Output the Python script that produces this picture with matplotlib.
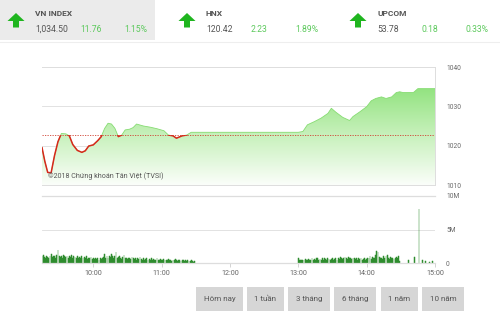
import matplotlib
matplotlib.use("Agg")
import matplotlib.pyplot as plt
import numpy as np
from matplotlib.patches import Rectangle, Polygon

plt.rcParams["font.family"] = ["Roboto", "DejaVu Sans"]

# Index summary tiles
index_names = ["VN INDEX", "HNX", "UPCOM"]
index_last = ["1,034.50", "120.42", "53.78"]
index_change = ["11.76", "2.23", "0.18"]
index_pct = ["1.15%", "1.89%", "0.33%"]

# Intraday VN-Index (minutes since 9:15)
price_t = [0, 2.5, 5, 8, 11, 14, 17, 21, 24, 27, 31, 35, 38, 41, 45, 49, 52, 55,
           58, 61, 64, 67, 70, 73, 77, 80, 83, 89, 95, 101, 107, 111, 115, 118,
           123, 127, 131, 135, 225, 229, 233, 239, 245, 251, 254, 258, 264, 270,
           273, 279, 285, 289, 293, 298, 302, 307, 311, 314, 317, 326, 330, 345]
price_v = [1019.5, 1016.0, 1013.2, 1013.1, 1017.5, 1021.0, 1023.1, 1023.0,
           1022.5, 1020.3, 1018.8, 1018.3, 1018.7, 1019.9, 1020.2, 1021.3,
           1022.3, 1024.4, 1025.7, 1025.5, 1024.4, 1022.3, 1022.7, 1024.0,
           1024.2, 1024.6, 1025.5, 1025.0, 1024.7, 1024.3, 1023.8, 1022.7,
           1022.5, 1021.9, 1022.5, 1022.7, 1023.4, 1023.4, 1023.4, 1023.6,
           1025.3, 1026.1, 1027.0, 1028.2, 1029.5, 1028.5, 1027.2, 1026.4,
           1027.4, 1028.6, 1029.9, 1031.4, 1032.0, 1032.4, 1032.0, 1032.4,
           1033.5, 1033.7, 1033.5, 1033.5, 1034.5, 1034.5]
prev_close = 1022.74

# Volume per minute, millions of shares
vol_morning = [1.0, 1.2, 0.9, 0.8, 1.1, 0.9, 0.8, 1.0, 1.3, 0.9, 1.1, 1.0, 0.8, 1.2, 2.0,
               1.1, 0.9, 1.0, 0.8, 1.2, 1.0, 0.9, 1.1, 0.8, 1.0, 0.9, 1.2, 0.8, 1.0, 0.9,
               0.8, 1.0, 0.7, 0.9, 0.8, 1.1, 0.7, 0.9, 0.8, 1.0, 0.6, 0.8, 0.7, 0.9, 0.6,
               0.7, 0.6, 0.8, 0.6, 0.7, 0.5, 0.8, 0.6, 0.7, 0.9, 1.4, 0.8, 1.0, 0.7, 1.1,
               0.9, 1.3, 1.0, 0.8, 1.1, 1.6, 0.7, 0.9, 1.0, 0.8, 0.6, 0.9, 1.2, 0.7, 0.8,
               0.6, 0.8, 0.7, 0.6, 0.9, 0.7, 0.6, 0.8, 0.5, 0.7, 0.6, 0.9, 0.6, 0.5, 0.7,
               0.5, 0.6, 0.8, 0.5, 0.6, 0.4, 0.7, 0.5, 0.6, 0.4, 0.5, 0.7, 0.5, 0.4, 0.6,
               0.5, 0.4, 0.6, 0.5, 0.4, 0.5, 0.6, 0.4, 0.5, 0.3, 0.5, 0.4, 0.6, 0.4, 0.3,
               0.5, 0.4, 0.3, 0.5, 0.4, 0.3, 0.4, 0.3, 0.4, 0.3, 0.3, 0.4, 0.3, 0.2, 0.3]
vol_afternoon = [0.8, 0.4, 0.5, 0.4, 0.5, 0.4, 0.6, 0.5, 0.4, 0.6, 0.5, 0.5, 0.7, 0.5, 0.6,
                 0.5, 0.7, 0.8, 0.5, 0.6, 0.4, 0.7, 0.5, 0.8, 0.6, 0.5, 0.7, 0.6, 0.5, 0.6,
                 0.7, 0.5, 0.6, 0.8, 0.5, 0.7, 0.6, 0.9, 0.7, 0.6, 0.8, 0.9, 0.7, 0.6, 0.9,
                 0.7, 0.8, 0.6, 0.7, 0.8, 0.6, 0.7, 0.5, 0.8, 0.6, 0.7, 0.5, 0.6, 0.7, 0.5,
                 0.6, 0.8, 0.7, 1.0, 0.6, 0.9, 0.7, 0.8, 1.2, 1.75, 1.6, 0.9, 0.7, 0.8, 0.6,
                 1.0, 0.7, 1.1, 1.2, 0.8, 0.6, 0.9, 0.7, 0.8, 0.6, 0.7, 0.9, 0.8, 1.1, 0.3]
atc_t = [322, 327, 331, 334, 337, 340, 343]
atc_v = [0.5, 0.9, 8.1, 0.4, 0.3, 0.2, 0.3]

hour_ticks = [45, 105, 165, 225, 285, 345]
hour_labels = ["10:00", "11:00", "12:00", "13:00", "14:00", "15:00"]
range_buttons = ["Hôm nay", "1 tuần", "3 tháng", "6 tháng", "1 năm", "10 năm"]

W, H = 500, 334
GREEN_TXT = "#5cc95c"
GREY_TXT = "#555555"
GRID = "#dddddd"
BAR = "#2e8c2e"


def px_axes(fig, x0, y0, x1, y1):
    return fig.add_axes([x0 / W, 1 - y1 / H, (x1 - x0) / W, (y1 - y0) / H])


fig = plt.figure(figsize=(W / 100, H / 100), dpi=100)
fig.patch.set_facecolor("white")

# ---- price panel ----
ax = px_axes(fig, 42, 67, 435, 185)
t = np.array(price_t, dtype=float)
v = np.array(price_v)
ax.set_xlim(0, 345)
ax.set_ylim(1010, 1040)

poly = ax.fill_between(t, v, 1010, color="none", lw=0)
grad = np.linspace(0, 1, 256).reshape(-1, 1)
cmap = matplotlib.colors.LinearSegmentedColormap.from_list(
    "g", [(0, "#fbfefa"), (0.45, "#c4f0b8"), (0.85, "#8fe27c"), (1, "#86df72")])
img = ax.imshow(grad, extent=[0, 345, 1010, 1040], origin="lower",
                aspect="auto", cmap=cmap, zorder=1)
img.set_clip_path(poly.get_paths()[0], transform=ax.transData)

ax.plot(t, v, color="#86dc72", lw=0.6, zorder=3)
red, = ax.plot(t, v, color="#d8281c", lw=1.1, zorder=4)
red.set_clip_path(Rectangle((0, 1005), 345, prev_close - 1005,
                            transform=ax.transData))
ax.axhline(prev_close, color="#d04030", lw=0.6, ls=(0, (1.5, 1.5)), zorder=5)

for yv in (1020, 1030):
    ax.axhline(yv, color=GRID, lw=0.6, zorder=0)
ax.spines["left"].set_visible(False)
for s in ("top", "bottom", "right"):
    ax.spines[s].set_color(GRID)
    ax.spines[s].set_linewidth(0.7)
ax.set_xticks([])
ax.yaxis.tick_right()
ax.set_yticks([1010, 1020, 1030, 1040])
ax.tick_params(axis="y", length=0, pad=8, labelsize=4.8, labelcolor="#666666")
ax.text(5, 1011.8, "©2018 Chứng khoán Tân Việt (TVSI)", fontsize=5.1,
        color=GREY_TXT, zorder=6)

# ---- volume panel ----
bx = px_axes(fig, 42, 196, 435, 263)
bx.set_xlim(0, 345)
bx.set_ylim(0, 10)
bar_kw = dict(width=0.75, color=BAR, edgecolor=BAR, lw=0.35, zorder=2)
bx.bar(np.arange(len(vol_morning)), vol_morning, **bar_kw)
bx.bar(225 + np.arange(len(vol_afternoon)), vol_afternoon, **bar_kw)
bx.bar(atc_t, atc_v, **bar_kw)
bx.axhline(5, color=GRID, lw=0.6, zorder=0)
for s in ("left", "right"):
    bx.spines[s].set_visible(False)
for s in ("top", "bottom"):
    bx.spines[s].set_color(GRID)
    bx.spines[s].set_linewidth(0.9)
bx.yaxis.tick_right()
bx.set_yticks([0, 5, 10], ["0", "5M", "10M"])
bx.tick_params(axis="y", length=0, pad=8, labelsize=4.8, labelcolor="#666666")
bx.set_xticks(hour_ticks, hour_labels)
bx.tick_params(axis="x", length=3, width=0.6, color="#cccccc", pad=2,
               labelsize=5.2, labelcolor="#666666")

# ---- header tiles and range buttons ----
bg = fig.add_axes([0, 0, 1, 1], zorder=-1)
bg.set_xlim(0, W)
bg.set_ylim(H, 0)
bg.axis("off")
bg.add_patch(Rectangle((0, 0), 155, 40, color="#ebebeb", lw=0))
bg.plot([0, W], [41.5, 41.5], color="#eeeeee", lw=0.8)

top = fig.add_axes([0, 0, 1, 1], zorder=10)
top.set_xlim(0, W)
top.set_ylim(H, 0)
top.axis("off")

tile_x = [0, 171, 342]
for i, x0 in enumerate(tile_x):
    cx = x0 + 16
    arrow = [(cx, 13), (cx + 8.5, 21), (cx + 3, 21), (cx + 3, 27.5),
             (cx - 3, 27.5), (cx - 3, 21), (cx - 8.5, 21)]
    top.add_patch(Polygon(arrow, closed=True, color="#1fb51f", lw=0))
    top.text(x0 + 35, 13, index_names[i], fontsize=6, fontweight="bold",
             color=GREY_TXT, va="center")
    top.text(x0 + 35, 29.5, index_last[i], fontsize=6.2, color=GREY_TXT,
             va="center")
    top.text(x0 + 80, 29.5, index_change[i], fontsize=6.2, color=GREEN_TXT,
             va="center")
    top.text(x0 + 124, 29.5, index_pct[i], fontsize=6.2, color=GREEN_TXT,
             va="center")

btn_x = [(196, 243), (247, 284), (288, 330), (334, 376), (381, 418), (422, 464)]
for (x0, x1), lab in zip(btn_x, range_buttons):
    top.add_patch(Rectangle((x0, 287), x1 - x0, 24, color="#d6d6d6", lw=0))
    top.text((x0 + x1) / 2, 299, lab, fontsize=5.8, color=GREY_TXT,
             ha="center", va="center")

fig.savefig("out.png", dpi=100)
